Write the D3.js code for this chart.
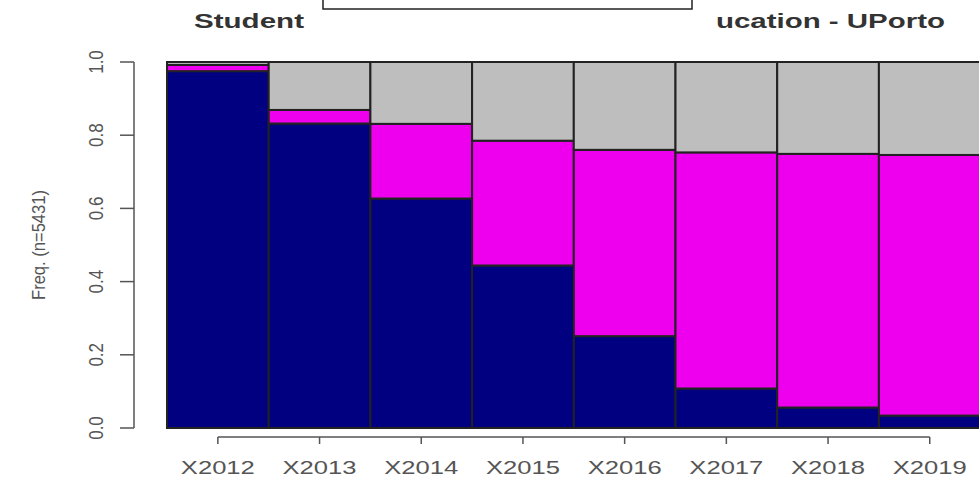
<!DOCTYPE html>
<html>
<head>
<meta charset="utf-8">
<script src="https://cdn.jsdelivr.net/npm/d3@7"></script>
<style>
  body { margin: 0; background: #fff; }
  text { font-family: "Liberation Sans", Arial, sans-serif; }
</style>
</head>
<body>
<div class="App"></div>
<script>
// data
const years = ["X2012", "X2013", "X2014", "X2015", "X2016", "X2017", "X2018", "X2019"];
const navyShare = [0.975, 0.832, 0.627, 0.444, 0.251, 0.108, 0.056, 0.034];
const magentaShare = [0.017, 0.037, 0.204, 0.341, 0.509, 0.645, 0.693, 0.712];
const grayShare = navyShare.map((d, i) => 1 - d - magentaShare[i]);
const yTicks = [0, 0.2, 0.4, 0.6, 0.8, 1.0];
const titleLeft = "Student";
const titleRight = "ucation - UPorto";
const yLabel = "Freq. (n=5431)";

const w = 979;
const h = 482;
const colors = ["#000080", "#ee00ee", "#bebebe"];
const axisColor = "#555";

const rows = years.map((y, i) => ({ year: y, a: navyShare[i], b: magentaShare[i], c: grayShare[i] }));
const stack = d3.stack().keys(["a", "b", "c"])(rows);

const xScale = d3.scaleBand().domain(years).range([167, 167 + 8 * 101.7]).padding(0);
const yScale = d3.scaleLinear().domain([0, 1]).range([428, 62]);

const svg = d3.select(".App").append("svg")
  .attr("width", w)
  .attr("height", h);

// stacked bars
svg.selectAll("g.layer")
  .data(stack)
  .enter()
  .append("g")
  .attr("class", "layer")
  .attr("fill", (d, i) => colors[i])
  .selectAll("rect")
  .data(d => d)
  .enter()
  .append("rect")
  .attr("x", d => xScale(d.data.year))
  .attr("width", xScale.bandwidth())
  .attr("y", d => yScale(d[1]))
  .attr("height", d => yScale(d[0]) - yScale(d[1]))
  .attr("stroke", "#222")
  .attr("stroke-width", 2);

// y axis
const yAxis = svg.append("g").attr("transform", "translate(134,0)");
yAxis.append("line")
  .attr("y1", yScale(0)).attr("y2", yScale(1))
  .attr("stroke", axisColor).attr("stroke-width", 1.5);
yAxis.selectAll("line.tick")
  .data(yTicks)
  .enter()
  .append("line")
  .attr("class", "tick")
  .attr("x1", -14).attr("x2", 0)
  .attr("y1", d => yScale(d)).attr("y2", d => yScale(d))
  .attr("stroke", axisColor).attr("stroke-width", 1.5);
yAxis.selectAll("text")
  .data(yTicks)
  .enter()
  .append("text")
  .attr("transform", d => `translate(-39,${yScale(d)}) scale(1.23,1) rotate(-90)`)
  .attr("text-anchor", "middle")
  .attr("dy", "0.36em")
  .attr("font-size", 17)
  .attr("fill", axisColor)
  .text(d => d.toFixed(1));

// x axis
const xAxis = svg.append("g").attr("transform", "translate(0,437)");
const centers = years.map(y => xScale(y) + xScale.bandwidth() / 2);
xAxis.append("line")
  .attr("x1", centers[0]).attr("x2", centers[centers.length - 1])
  .attr("stroke", axisColor).attr("stroke-width", 1.5);
xAxis.selectAll("line.tick")
  .data(years)
  .enter()
  .append("line")
  .attr("class", "tick")
  .attr("x1", d => xScale(d) + xScale.bandwidth() / 2)
  .attr("x2", d => xScale(d) + xScale.bandwidth() / 2)
  .attr("y1", 0).attr("y2", 7)
  .attr("stroke", axisColor).attr("stroke-width", 1.5);
xAxis.selectAll("text")
  .data(years)
  .enter()
  .append("text")
  .attr("x", d => xScale(d) + xScale.bandwidth() / 2 - 37)
  .attr("y", 37)
  .attr("font-size", 19)
  .attr("textLength", 74)
  .attr("lengthAdjust", "spacingAndGlyphs")
  .attr("fill", axisColor)
  .text(d => d);

// y label
svg.append("text")
  .attr("transform", `translate(45,${yScale(0.5)}) scale(1.2,1) rotate(-90)`)
  .attr("text-anchor", "middle")
  .attr("font-size", 15)
  .attr("textLength", 110)
  .attr("lengthAdjust", "spacingAndGlyphs")
  .attr("fill", "#555")
  .text(yLabel);

// title pieces left visible around the box
svg.append("text")
  .attr("x", 194).attr("y", 28)
  .attr("font-size", 21).attr("font-weight", "bold")
  .attr("fill", "#333")
  .attr("textLength", 110).attr("lengthAdjust", "spacingAndGlyphs")
  .text(titleLeft);
svg.append("text")
  .attr("x", 716).attr("y", 28)
  .attr("font-size", 21).attr("font-weight", "bold")
  .attr("fill", "#333")
  .attr("textLength", 229).attr("lengthAdjust", "spacingAndGlyphs")
  .text(titleRight);

svg.append("rect")
  .attr("x", 323).attr("y", -2)
  .attr("width", 369).attr("height", 11)
  .attr("fill", "#fff")
  .attr("stroke", "#222").attr("stroke-width", 1.5);
</script>
</body>
</html>
